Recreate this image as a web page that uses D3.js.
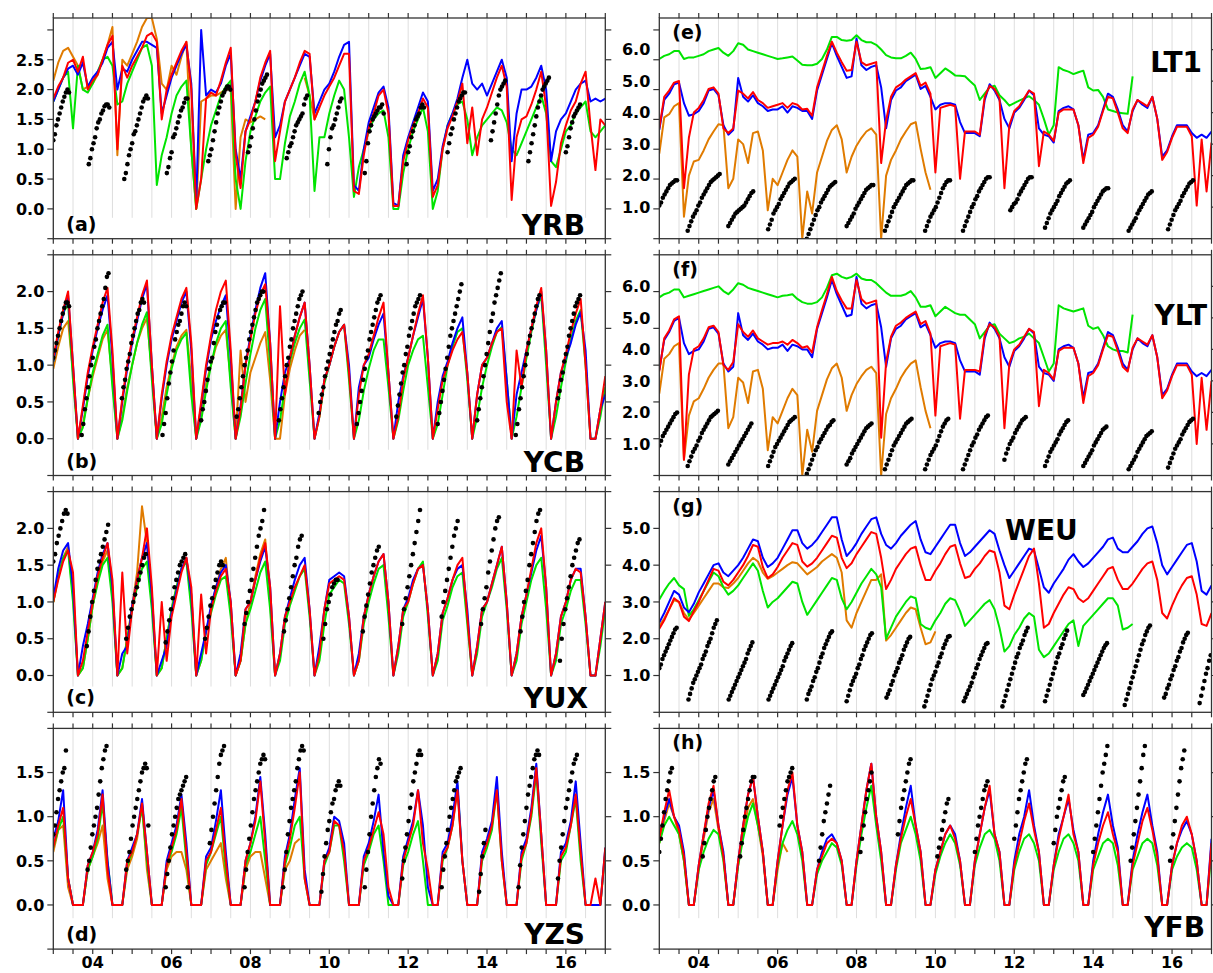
<!DOCTYPE html>
<meta charset="utf-8">
<script src="https://d3js.org/d3.v7.min.js"></script>
<style>
body { margin: 0; background: #fff; }
svg text { font-family: "DejaVu Sans", sans-serif; font-weight: bold; fill: #000; }
</style>
<body>
<div id="chart"></div>
</body>
<script>

// time axis: day of month, series sampled every 3 hours from day 3.0
const t0 = 3, dt = 0.125;

// ---- (a) YRB
const aRed = [
 1.85,2.05,2.2,2.45,2.5,2.3,2.55,2.0,
 2.15,2.25,2.5,2.75,2.9,1.0,2.4,2.2,
 2.4,2.55,2.7,2.9,2.95,2.8,1.5,2.0,
 2.25,2.45,2.65,2.8,2.0,0.0,0.5,1.85,
 1.95,1.9,2.15,2.45,2.7,0.9,0.35,1.3,
 1.5,1.8,2.2,2.45,2.65,0.8,1.3,1.8,
 2.0,2.2,2.45,2.65,2.6,1.5,1.7,1.9,
 2.05,2.2,2.4,2.6,2.6,0.3,0.25,0.9,
 1.35,1.6,1.9,2.0,1.6,0.05,0.05,0.8,
 1.15,1.4,1.6,1.85,1.7,0.2,0.4,1.0,
 1.35,1.55,1.8,2.1,1.1,1.7,0.9,1.5,
 1.7,1.95,2.2,2.4,2.05,0.15,1.2,1.5,
 1.55,1.75,2.0,2.3,1.7,0.05,0.45,1.1,
 1.4,1.65,1.8,2.1,2.3,1.4,0.65,1.5,
 1.4];
const aBlue = [
 1.8,2.0,2.2,2.35,2.4,2.25,2.45,2.05,
 2.2,2.3,2.45,2.7,2.8,2.0,2.35,2.3,
 2.5,2.65,2.8,2.8,2.75,2.7,1.6,1.9,
 2.2,2.4,2.6,2.75,2.1,0.1,3.0,1.9,
 2.0,1.95,2.1,2.4,2.6,1.0,0.5,1.3,
 1.55,1.8,2.15,2.4,2.6,1.2,1.4,1.8,
 2.0,2.2,2.4,2.6,2.55,1.6,1.8,2.0,
 2.1,2.3,2.55,2.75,2.8,0.4,0.3,1.0,
 1.45,1.7,1.95,2.05,1.7,0.1,0.05,0.9,
 1.2,1.45,1.7,1.95,1.8,0.3,0.5,1.05,
 1.4,1.6,1.85,2.2,2.5,2.1,2.0,2.1,
 1.9,2.1,2.3,2.5,2.2,0.8,1.6,2.0,
 2.0,2.05,2.2,2.4,2.0,0.8,1.3,1.5,
 1.6,1.8,2.0,2.1,2.15,1.8,1.85,1.8,
 1.85];
const aGreen = [
 1.8,2.0,2.2,2.3,1.35,2.4,2.0,1.95,
 2.1,2.3,2.5,2.55,2.4,1.75,1.8,2.1,
 2.3,2.5,2.7,2.75,2.4,0.4,0.9,1.2,
 1.6,1.9,2.05,2.15,1.0,0.0,0.5,1.0,
 1.4,1.65,1.9,2.05,2.15,0.5,0.0,0.8,
 1.3,1.55,1.8,1.95,2.05,0.5,0.5,1.1,
 1.55,1.8,2.1,2.3,1.9,0.3,1.2,1.2,
 1.6,1.9,2.15,2.0,1.2,0.2,0.7,1.0,
 1.3,1.5,1.6,1.65,1.2,0.0,0.0,0.6,
 1.0,1.3,1.5,1.7,1.3,0.0,0.3,1.0,
 1.4,1.6,1.75,1.8,1.5,0.9,1.2,1.4,
 1.5,1.6,1.7,1.65,1.45,1.0,0.9,1.1,
 1.3,1.5,1.7,1.9,1.6,0.8,0.7,1.0,
 1.3,1.4,1.6,1.7,1.8,1.3,1.2,1.3,
 1.4];
const aOrange = [
 2.15,2.45,2.65,2.7,2.55,2.4,2.0,2.05,
 2.1,2.25,2.5,2.75,3.05,0.9,2.5,2.4,
 2.6,2.8,3.05,3.2,3.2,2.85,2.1,2.0,
 2.4,2.25,2.55,2.8,1.0,0.0,1.8,1.85,
 1.9,1.9,1.95,2.0,2.0,0.0,1.2,1.5,
 1.45,1.5,1.55,1.5,null,null,null,null,
 null,null,null,2.2,1.9,1.5,1.7];
const aObs = [
 [3.0,[1.15,1.25,1.4,1.5,1.6,1.7,1.8,1.88,1.95,2.0,1.95]],
 [3.9,[0.75,0.85,1.0,1.1,1.2,1.35,1.45,1.5,1.6,1.65,1.72,1.75,1.75,1.7]],
 [4.8,[0.5,0.6,0.75,0.9,1.0,1.1,1.25,1.3,1.4,1.5,1.6,1.7,1.8,1.85,1.9,1.85]],
 [5.88,[0.6,0.7,0.85,0.95,1.2,1.25,1.35,1.45,1.55,1.65,1.7,1.78,1.85,1.85]],
 [6.93,[0.8,0.9,1.0,1.15,1.3,1.45,1.6,1.7,1.8,1.9,1.95,2.0,2.05,2.05,2.0]],
 [7.94,[0.95,1.05,1.2,1.35,1.5,1.65,1.8,1.9,2.0,2.1,2.15,2.2,2.25]],
 [8.92,[0.85,0.95,1.05,1.1,1.2,1.3,1.4,1.45,1.5,1.55,1.6,1.75,1.85,1.9]],
 [9.95,[0.75,1.0,1.2,1.35,1.4,1.5,1.6,1.7,1.8,1.85]],
 [10.9,[0.6,0.8,1.1,1.3,1.4,1.5,1.55,1.6,1.65,1.7,1.7,1.75,1.6]],
 [11.96,[0.75,0.95,1.05,1.2,1.3,1.4,1.5,1.55,1.6,1.7,1.75,1.7]],
 [13.0,[0.95,1.1,1.25,1.35,1.5,1.6,1.7,1.8,1.85,1.9,1.95,1.95]],
 [14.1,[1.15,1.3,1.45,1.6,1.75,1.9,2.0,2.05,2.1,2.15]],
 [15.05,[0.8,0.95,1.1,1.25,1.4,1.55,1.7,1.8,1.9,2.0,2.05,2.1,2.15,2.2]],
 [16.0,[0.95,1.05,1.2,1.35,1.45,1.55,1.6,1.65,1.7,1.75]]];

// ---- (b) YCB
const bRed = [
 1.1,1.45,1.75,2.0,1.0,0,0.45,0.9,
 1.25,1.55,1.85,2.05,1.2,0,0.55,1.0,
 1.35,1.65,1.95,2.15,1.0,0,0.6,1.05,
 1.4,1.65,1.9,2.05,1.3,0,0.5,1.0,
 1.4,1.75,2.0,2.15,1.2,0,0.4,1.0,
 1.35,1.7,1.95,2.1,1.3,0,1.8,0.6,
 1.1,1.4,1.65,1.85,1.0,0,0.3,0.8,
 1.0,1.25,1.45,1.55,0.9,0,0.6,1.0,
 1.15,1.4,1.65,1.85,0.9,0,0.3,0.8,
 1.1,1.4,1.7,1.95,1.1,0,0.4,0.8,
 1.0,1.2,1.35,1.45,0.9,0,0.6,1.0,
 1.1,1.3,1.45,1.5,0.5,0,1.2,0.7,
 1.2,1.5,1.8,2.05,1.2,0,0.5,0.9,
 1.15,1.45,1.7,1.9,1.0,0,0,0.4,
 0.85];
const bBlue = [
 1.05,1.4,1.7,1.95,1.0,0,0.4,0.85,
 1.2,1.5,1.75,1.95,1.1,0,0.5,0.95,
 1.3,1.6,1.9,2.1,1.0,0,0.55,1.0,
 1.35,1.6,1.85,2.0,1.2,0,0.45,0.95,
 1.35,1.6,1.8,1.95,1.1,0,0.45,1.0,
 1.4,1.75,2.05,2.25,1.3,0,0.5,0.9,
 1.1,1.4,1.65,1.85,1.0,0,0.35,0.8,
 1.0,1.25,1.45,1.55,1.0,0,0.7,1.0,
 1.1,1.35,1.55,1.7,0.9,0,0.5,0.85,
 1.1,1.4,1.65,1.9,1.1,0,0.5,0.85,
 1.05,1.3,1.5,1.65,0.9,0,0.6,1.0,
 1.1,1.3,1.5,1.6,0.8,0,0.6,0.9,
 1.2,1.5,1.75,2.0,1.2,0,0.5,0.9,
 1.1,1.3,1.55,1.72,1.2,0,0,0.4,
 0.6];
const bGreen = [
 1.05,1.4,1.7,1.85,0.8,0,0.15,0.55,
 0.9,1.15,1.4,1.55,0.7,0,0.25,0.65,
 1.0,1.3,1.55,1.72,0.8,0,0.2,0.6,
 0.95,1.2,1.35,1.44,0.6,0,0.25,0.65,
 1.0,1.3,1.5,1.6,0.7,0,0.3,0.75,
 1.15,1.5,1.75,1.9,1.0,0,0.25,0.7,
 1.05,1.3,1.5,1.62,0.8,0,0.3,0.75,
 1.0,1.25,1.45,1.55,0.8,0,0.25,0.65,
 0.95,1.2,1.35,1.35,0.7,0,0.25,0.65,
 1.0,1.2,1.35,1.4,0.7,0,0.2,0.6,
 1.0,1.25,1.45,1.5,0.8,0,0.3,0.7,
 1.0,1.25,1.45,1.52,0.8,0,0.3,0.7,
 1.1,1.45,1.75,1.95,1.0,0,0.3,0.7,
 1.05,1.35,1.6,1.75,1.0,0,0,0.3,
 0.7];
const bOrange = [
 0.95,1.25,1.5,1.6,0.9,0,0.2,0.55,
 0.85,1.1,1.35,1.48,0.8,0,0.3,0.7,
 1.0,1.3,1.5,1.64,0.9,0,0.3,0.7,
 1.0,1.25,1.4,1.48,0.8,0,0.35,0.75,
 1.0,1.25,1.4,1.48,0.8,0,1.2,0.5,
 0.9,1.1,1.3,1.45,0.8,0,0,0.6,
 0.95,1.2,1.4,1.48];
const bObs = [
 [3.0,[1.1,1.2,1.3,1.4,1.5,1.6,1.7,1.78,1.85,1.85,1.8]],
 [3.72,[0.05,0.2,0.4,0.55,0.7,0.85,1.0,1.1,1.25,1.35,1.5,1.6,1.7,1.8,1.9,2.05,2.2,2.25]],
 [4.74,[0.55,0.7,0.8,0.95,1.05,1.15,1.3,1.4,1.5,1.6,1.7,1.75,1.85,1.9,1.85]],
 [5.77,[0.05,0.2,0.35,0.55,0.75,0.9,1.05,1.2,1.35,1.45,1.55,1.6,1.7,1.8,1.85,1.8]],
 [6.75,[0.25,0.4,0.5,0.65,0.8,0.95,1.05,1.1,1.3,1.45,1.55,1.65,1.75,1.8,1.85,1.85]],
 [7.65,[0.3,0.4,0.55,0.7,0.85,1.0,1.1,1.2,1.35,1.45,1.55,1.65,1.75,1.85,1.9,1.95,2.0,2.0]],
 [8.72,[0.25,0.4,0.55,0.7,0.85,1.0,1.1,1.25,1.35,1.5,1.6,1.7,1.8,1.9,1.95,2.0]],
 [9.73,[0.35,0.5,0.6,0.7,0.85,0.95,1.05,1.15,1.25,1.35,1.45,1.55,1.6,1.7,1.75]],
 [10.7,[0.2,0.35,0.5,0.65,0.8,0.95,1.1,1.2,1.35,1.45,1.55,1.65,1.75,1.85,1.9,1.95]],
 [11.7,[0.3,0.45,0.6,0.75,0.9,1.0,1.15,1.25,1.4,1.5,1.6,1.7,1.8,1.85,1.9,1.95]],
 [12.75,[0.2,0.35,0.5,0.65,0.8,0.95,1.1,1.25,1.4,1.5,1.6,1.7,1.8,1.9,2.0,2.1]],
 [13.75,[0.25,0.4,0.55,0.7,0.85,1.0,1.15,1.3,1.45,1.6,1.7,1.85,1.95,2.05,2.15,2.25]],
 [14.73,[0.05,0.2,0.4,0.55,0.7,0.85,1.0,1.15,1.3,1.4,1.5,1.6,1.7,1.8,1.9,1.95]],
 [15.8,[0.55,0.65,0.8,0.9,1.05,1.15,1.25,1.4,1.5,1.6,1.7,1.8,1.85,1.9,1.95]]];

// ---- (c) YUX
const cRed = [
 1.0,1.3,1.55,1.7,1.4,0,0.2,0.6,
 1.0,1.35,1.6,1.8,1.3,0,1.4,0.3,
 0.9,1.3,1.6,2.0,1.2,0,1.0,0.2,
 0.8,1.1,1.4,1.6,1.2,0,1.1,0.3,
 0.9,1.15,1.35,1.45,1.0,0,0.2,0.9,
 1.0,1.3,1.6,1.8,1.2,0,0.3,0.8,
 1.0,1.2,1.35,1.5,0.9,0,0.3,0.9,
 1.25,1.3,1.35,1.3,0.8,0,0.2,0.8,
 1.1,1.35,1.55,1.65,1.0,0,0.4,0.9,
 1.0,1.25,1.45,1.5,0.9,0,0.3,0.85,
 1.05,1.3,1.5,1.6,0.8,0,0.4,0.9,
 1.0,1.25,1.5,1.75,1.0,0,0.3,0.8,
 1.1,1.45,1.8,2.0,1.2,0,0.3,0.8,
 1.0,1.3,1.45,1.4,0.8,0,0,0.5,
 1.0];
const cBlue = [
 1.05,1.45,1.7,1.8,1.2,0,0.4,0.7,
 1.05,1.4,1.65,1.8,1.2,0,0.3,0.4,
 0.95,1.3,1.6,1.8,1.1,0,0.2,0.4,
 0.85,1.15,1.45,1.6,1.1,0,0.3,0.6,
 0.95,1.2,1.4,1.5,1.0,0,0.3,0.9,
 1.0,1.3,1.55,1.75,1.2,0,0.3,0.8,
 1.05,1.3,1.5,1.6,0.9,0,0.4,0.9,
 1.3,1.35,1.4,1.35,0.8,0,0.3,0.8,
 1.1,1.35,1.55,1.65,1.0,0,0.4,0.9,
 1.05,1.3,1.45,1.5,0.9,0,0.3,0.85,
 1.05,1.3,1.45,1.5,0.9,0,0.4,0.9,
 1.0,1.25,1.5,1.75,1.0,0,0.3,0.8,
 1.1,1.4,1.7,1.9,1.2,0,0.3,0.8,
 1.0,1.3,1.45,1.45,0.8,0,0,0.5,
 1.0];
const cGreen = [
 1.0,1.35,1.6,1.7,1.0,0,0.1,0.5,
 0.95,1.25,1.5,1.6,1.0,0,0.1,0.5,
 0.9,1.2,1.45,1.55,0.9,0,0.1,0.5,
 0.9,1.2,1.45,1.55,0.9,0,0.2,0.6,
 0.85,1.1,1.3,1.35,0.8,0,0.2,0.7,
 0.9,1.15,1.4,1.55,0.9,0,0.2,0.7,
 0.95,1.15,1.35,1.45,0.8,0,0.2,0.7,
 1.1,1.2,1.3,1.25,0.7,0,0.2,0.7,
 1.0,1.25,1.45,1.5,0.8,0,0.3,0.8,
 1.0,1.25,1.45,1.55,0.8,0,0.2,0.75,
 0.95,1.2,1.35,1.4,0.7,0,0.3,0.8,
 1.0,1.2,1.45,1.6,0.9,0,0.2,0.7,
 1.0,1.3,1.5,1.6,0.9,0,0.2,0.7,
 0.9,1.15,1.3,1.3,0.7,0,0,0.4,
 0.9];
const cOrange = [
 1.0,1.35,1.6,1.75,1.1,0,0.1,0.5,
 0.95,1.3,1.55,1.7,1.1,0,0.1,0.5,
 0.95,1.4,2.3,1.8,1.0,0,0.1,0.5,
 0.9,1.2,1.45,1.6,1.0,0,0.2,0.6,
 0.9,1.2,1.45,1.6,0.9,0,0.2,0.7,
 1.0,1.35,1.65,1.85,1.0,0];
const cObs = [
 [3.0,[1.55,1.65,1.8,1.9,2.0,2.1,2.2,2.25,2.2]],
 [3.85,[0.4,0.6,0.8,1.0,1.15,1.3,1.45,1.55,1.65,1.75,1.85,1.95,2.05]],
 [4.85,[0.5,0.65,0.8,0.9,1.0,1.1,1.2,1.3,1.4,1.5,1.6,1.65]],
 [5.85,[0.45,0.6,0.75,0.9,1.05,1.2,1.3,1.4,1.5,1.55,1.6,1.65]],
 [6.85,[0.5,0.65,0.8,0.95,1.05,1.2,1.3,1.4,1.5,1.55,1.5]],
 [7.85,[0.7,0.85,1.0,1.15,1.3,1.45,1.6,1.75,1.9,2.0,2.1,2.25]],
 [8.85,[0.6,0.75,0.9,1.05,1.2,1.35,1.5,1.6,1.75,1.85,1.9]],
 [9.85,[0.5,0.7,0.9,1.0,1.1,1.2,1.25,1.3,1.3]],
 [10.85,[0.6,0.8,0.95,1.1,1.25,1.4,1.5,1.6,1.7,1.75]],
 [11.85,[0.7,0.9,1.05,1.2,1.35,1.5,1.65,1.8,1.95,2.1,2.25]],
 [12.85,[0.8,1.0,1.15,1.3,1.45,1.6,1.75,1.9,2.0,2.1]],
 [13.85,[0.7,0.9,1.05,1.2,1.4,1.55,1.7,1.85,2.0,2.1,2.15]],
 [14.85,[0.6,0.8,1.0,1.15,1.3,1.5,1.65,1.8,1.95,2.1,2.2,2.25]],
 [15.85,[0.2,0.5,0.7,0.9,1.05,1.2,1.35,1.5,1.6,1.7,1.8,1.85]]];

// ---- (d) YZS
const dRed = [
 0.65,0.9,1.1,0.3,0,0,0,0.45,
 0.6,0.8,1.25,0.4,0,0,0,0.5,
 0.6,0.8,1.15,0.6,0,0,0,0.45,
 0.65,0.85,1.2,0.6,0,0,0,0.5,
 0.6,0.85,1.1,0.5,0,0,0,0.5,
 0.7,0.95,1.4,0.7,0,0,0,0.5,
 0.75,1.1,1.5,0.3,0,0,0,0.5,
 0.6,0.95,0.9,0.6,0,0,0,0.5,
 0.65,0.85,1.05,0.8,0.2,0,0,0.5,
 0.7,0.9,1.3,0.7,0.4,0,0,0.55,
 0.65,0.9,1.3,0.5,0,0,0,0.55,
 0.7,0.9,1.3,0.5,0,0,0,0.55,
 0.7,1.05,1.55,0.8,0,0,0,0.55,
 0.65,0.9,1.25,0.6,0,0,0.3,0,
 0.65];
const dBlue = [
 0.75,0.95,1.3,0.3,0,0,0,0.45,
 0.6,0.85,1.3,0.5,0,0,0,0.5,
 0.65,0.8,1.2,0.6,0,0,0,0.5,
 0.7,0.9,1.25,0.7,0,0,0,0.55,
 0.65,0.95,1.3,0.6,0,0,0,0.5,
 0.7,1.0,1.45,0.8,0,0,0,0.55,
 0.8,1.2,1.55,0.4,0,0,0,0.5,
 0.65,1.0,0.95,0.7,0,0,0,0.55,
 0.7,0.95,1.25,0.6,0.1,0,0,0.55,
 0.75,0.95,1.3,0.9,0.2,0,0,0.6,
 0.7,1.0,1.4,0.5,0,0,0,0.6,
 0.75,0.95,1.45,0.6,0,0,0,0.6,
 0.75,1.1,1.6,0.8,0,0,0,0.6,
 0.7,0.95,1.4,0.7,0,0,0,0,
 0.65];
const dGreen = [
 0.65,0.85,1.0,0.3,0,0,0,0.4,
 0.55,0.75,1.15,0.5,0,0,0,0.45,
 0.6,0.8,1.1,0.5,0,0,0,0.45,
 0.6,0.8,1.1,0.5,0,0,0,0.45,
 0.6,0.8,1.0,0.4,0,0,0,0.45,
 0.6,0.8,1.0,0.5,0,0,0,0.45,
 0.65,0.9,1.0,0.3,0,0,0,0.45,
 0.6,0.9,0.9,0.5,0,0,0,0.45,
 0.6,0.8,0.9,0.5,0,0,0,0.45,
 0.6,0.8,0.95,0.5,0,0,0,0.5,
 0.65,0.9,1.35,0.5,0,0,0,0.5,
 0.65,0.85,1.3,0.5,0,0,0,0.5,
 0.7,1.0,1.5,0.7,0,0,0,0.5,
 0.6,0.9,1.2,0.5,0,0,0,0,
 0.6];
const dOrange = [
 0.6,0.85,0.9,0.2,0,0,0,0.4,
 0.55,0.7,0.9,0.3,0,0,0,0.4,
 0.55,0.75,1.15,0.4,0,0,0,0.4,
 0.55,0.6,0.6,0.4,0,0,0,0.4,
 0.5,0.6,0.7,0.3,0,0,0,0.4,
 0.55,0.6,0.6,0.3,0,0,0,0.4,
 0.5,0.7,0.75];
const dObs = [
 [3.0,[0.8,0.9,1.05,1.2,1.3,1.4,1.5,1.55,1.75]],
 [3.87,[0.4,0.5,0.65,0.8,0.9,1.0,1.1,1.25,1.4,1.55,1.65,1.75,1.8]],
 [4.85,[0.4,0.5,0.6,0.75,0.9,1.0,1.1,1.2,1.3,1.4,1.5,1.55,1.6,1.55,0.9]],
 [5.85,[0.2,0.35,0.5,0.65,0.8,0.9,1.0,1.1,1.2,1.25,1.3,1.35,1.4,1.45,0.2]],
 [6.97,[0.7,0.85,1.0,1.15,1.3,1.45,1.6,1.7,1.75,1.8]],
 [7.85,[0.2,0.4,0.6,0.75,0.9,1.05,1.2,1.3,1.4,1.5,1.6,1.65,1.7,1.65]],
 [8.83,[0.2,0.4,0.6,0.8,0.95,1.1,1.2,1.3,1.4,1.55,1.65,1.75,1.8,1.75]],
 [9.8,[0.15,0.35,0.55,0.7,0.85,0.95,1.05,1.15,1.2,1.3,1.35,1.4,1.35]],
 [10.9,[0.2,0.4,0.6,0.8,1.0,1.15,1.3,1.45,1.55,1.65,1.6]],
 [11.85,[0.3,0.5,0.65,0.8,0.95,1.1,1.25,1.4,1.5,1.6,1.7,1.75,1.7]],
 [12.85,[0.2,0.4,0.55,0.7,0.85,1.0,1.1,1.2,1.3,1.4,1.45,1.5,1.55]],
 [13.8,[0.15,0.35,0.55,0.7,0.85]],
 [14.8,[0.2,0.45,0.65,0.8,0.95,1.1,1.25,1.35,1.45,1.55,1.65,1.7,1.75,1.7]],
 [15.8,[0.3,0.5,0.65,0.8,0.95,1.1,1.2,1.3,1.4,1.5,1.6,1.65,1.7]]];

// ---- (e) LT1
const eRed = [
 3.5,4.5,4.7,4.95,5.0,1.6,3.2,4.0,
 4.15,4.4,4.75,4.8,4.6,3.5,3.35,3.5,
 4.7,4.6,4.45,4.65,4.4,4.3,4.15,4.2,
 4.25,4.3,4.15,4.3,4.25,4.1,4.12,3.9,
 4.8,5.3,5.8,6.25,5.9,5.6,5.33,5.35,
 6.25,5.6,5.5,5.55,5.6,2.4,3.75,4.5,
 4.8,4.9,5.05,5.15,5.25,4.85,4.95,4.6,
 2.1,4.15,4.2,4.25,4.2,1.9,3.4,3.4,
 3.4,3.3,4.5,4.85,4.75,4.45,1.6,3.6,
 4.05,4.2,4.45,4.7,4.6,2.3,3.4,3.3,
 3.1,4.0,4.1,4.1,4.1,3.6,2.4,3.2,
 3.3,3.55,4.05,4.5,4.45,4.0,3.5,3.35,
 4.1,4.4,4.3,4.2,4.5,3.8,2.5,2.75,
 3.2,3.55,3.55,3.55,3.25,1.05,3.15,1.5,
 3.05];
const eBlue = [
 3.45,4.4,4.6,4.9,4.95,4.3,3.9,3.95,
 4.05,4.3,4.7,4.75,4.55,3.6,3.3,3.45,
 5.1,4.5,4.35,4.55,4.3,4.2,4.05,4.1,
 4.1,4.2,4.0,4.2,4.15,4.05,4.05,3.8,
 4.7,5.2,5.7,6.2,5.8,5.45,5.1,5.15,
 6.35,5.5,5.35,5.45,5.5,4.8,3.5,4.4,
 4.7,4.8,5.0,5.1,5.2,4.75,4.85,4.5,
 4.1,4.25,4.3,4.3,4.25,3.7,3.35,3.35,
 3.35,3.25,4.4,4.9,4.7,4.4,3.8,3.5,
 4.0,4.15,4.4,4.7,4.55,3.5,3.3,3.25,
 3.05,4.05,4.15,4.2,4.1,3.6,2.5,3.3,
 3.35,3.6,4.1,4.6,4.5,4.1,3.6,3.4,
 4.05,4.4,4.25,4.15,4.5,3.8,2.6,2.8,
 3.25,3.6,3.6,3.6,3.35,3.2,3.3,3.2,
 3.4];
const eGreen = [
 5.7,5.8,5.85,5.95,5.95,5.7,5.75,5.75,
 5.8,5.85,5.95,6.0,6.05,5.9,5.8,5.95,
 6.2,6.15,6.0,5.95,5.9,5.85,5.8,5.75,
 5.7,5.72,5.75,5.78,5.65,5.52,5.5,5.5,
 5.55,5.7,6.0,6.4,6.4,6.3,6.28,6.3,
 6.45,6.3,6.23,6.23,6.15,6.0,5.82,5.75,
 5.72,5.72,5.8,5.9,5.7,5.38,5.4,5.44,
 5.1,5.25,5.4,5.3,5.18,5.17,5.15,5.0,
 4.86,4.4,4.6,4.8,4.85,4.55,4.4,4.22,
 4.3,4.38,4.45,4.52,4.4,4.25,3.8,3.3,
 3.6,5.44,5.35,5.3,5.22,5.28,5.33,4.8,
 4.7,4.72,4.5,4.1,4.05,4.0,3.98,3.96,
 5.15];
const eOrange = [
 2.7,3.85,3.95,4.2,4.3,0.7,2.0,2.45,
 2.5,2.8,3.15,3.4,3.63,3.6,1.6,1.9,
 3.15,3.0,2.4,3.35,3.4,2.8,0.9,1.9,
 1.7,2.1,2.5,2.8,2.6,0.0,1.5,0.8,
 2.1,2.6,3.1,3.45,3.6,3.15,2.1,2.6,
 2.95,3.2,3.4,3.5,3.3,0.0,2.0,2.5,
 2.8,3.15,3.4,3.63,3.7,2.85,2.1,1.55];
const eObs = [
 [3.0,[1.05,1.15,1.3,1.4,1.5,1.6,1.7,1.75,1.8,1.85,1.85]],
 [3.72,[0.25,0.4,0.55,0.7,0.8,0.9,1.05,1.15,1.3,1.4,1.5,1.6,1.7,1.8,1.85,1.9,1.95,2.0,2.05]],
 [4.75,[0.4,0.5,0.6,0.7,0.8,0.85,0.9,0.95,1.0,1.05,1.15,1.25,1.35,1.45,1.5]],
 [5.76,[0.3,0.45,0.6,0.8,0.9,1.0,1.1,1.25,1.35,1.45,1.55,1.65,1.75,1.8,1.85,1.9]],
 [6.74,[0.0,0.15,0.3,0.45,0.6,0.75,0.9,1.0,1.15,1.25,1.35,1.45,1.55,1.65,1.7,1.75,1.8]],
 [7.75,[0.4,0.5,0.6,0.7,0.8,0.95,1.05,1.15,1.25,1.35,1.45,1.55,1.6,1.65,1.7,1.7]],
 [8.72,[0.25,0.4,0.55,0.7,0.85,1.0,1.1,1.2,1.3,1.4,1.5,1.6,1.7,1.75,1.8,1.85,1.85]],
 [9.74,[0.25,0.4,0.55,0.7,0.8,0.9,1.0,1.15,1.3,1.45,1.6,1.7,1.8,1.85,1.85]],
 [10.7,[0.25,0.4,0.55,0.7,0.85,1.0,1.1,1.25,1.35,1.5,1.6,1.7,1.8,1.9,1.95,1.95]],
 [11.9,[0.9,1.0,1.1,1.15,1.25,1.4,1.5,1.6,1.7,1.8,1.9,1.95,1.95]],
 [12.78,[0.35,0.5,0.65,0.8,0.9,1.0,1.1,1.2,1.35,1.45,1.55,1.65,1.75,1.8,1.85]],
 [13.75,[0.35,0.45,0.55,0.65,0.75,0.85,1.0,1.1,1.2,1.3,1.4,1.5,1.55,1.6,1.6]],
 [14.9,[0.25,0.35,0.45,0.55,0.65,0.8,0.9,1.0,1.1,1.2,1.3,1.4,1.45,1.5]],
 [15.9,[0.3,0.45,0.6,0.75,0.9,1.0,1.1,1.2,1.35,1.45,1.55,1.65,1.75,1.8,1.85]]];

// ---- (f) YLT
const fRed = [
 3.3,4.35,4.6,4.95,5.05,0.5,3.2,4.0,
 4.1,4.35,4.7,4.75,4.55,3.5,3.35,3.6,
 4.8,4.55,4.4,4.6,4.35,4.25,4.15,4.2,
 4.2,4.25,4.15,4.3,4.2,4.05,4.1,3.9,
 4.7,5.25,5.75,6.3,5.85,5.55,5.3,5.3,
 6.2,5.6,5.45,5.5,5.55,1.2,3.6,4.4,
 4.75,4.85,5.0,5.1,5.2,4.8,4.9,4.5,
 1.9,4.1,4.15,4.2,4.15,1.8,3.35,3.35,
 3.35,3.3,4.45,4.8,4.7,4.4,1.5,3.55,
 4.0,4.15,4.4,4.65,4.55,2.2,3.35,3.25,
 3.05,3.95,4.05,4.05,4.05,3.55,2.3,3.15,
 3.25,3.5,4.0,4.45,4.4,3.95,3.45,3.3,
 4.05,4.35,4.25,4.15,4.45,3.75,2.45,2.7,
 3.15,3.5,3.5,3.5,3.2,1.0,3.1,1.45,
 3.0];
const fBlue = [
 3.35,4.3,4.55,4.9,5.0,4.2,3.85,3.95,
 4.0,4.25,4.65,4.7,4.5,3.55,3.3,3.45,
 5.15,4.45,4.3,4.5,4.25,4.15,4.0,4.05,
 4.05,4.15,3.95,4.15,4.1,4.0,4.0,3.75,
 4.65,5.15,5.65,6.2,5.75,5.4,5.05,5.1,
 6.3,5.45,5.3,5.4,5.45,4.7,3.45,4.35,
 4.65,4.75,4.95,5.05,5.15,4.7,4.8,4.45,
 4.05,4.2,4.25,4.25,4.2,3.65,3.3,3.3,
 3.3,3.2,4.35,4.85,4.65,4.35,3.75,3.45,
 3.95,4.1,4.35,4.65,4.5,3.45,3.25,3.2,
 3.0,4.0,4.1,4.15,4.05,3.55,2.45,3.25,
 3.3,3.55,4.05,4.55,4.45,4.05,3.55,3.35,
 4.0,4.35,4.2,4.1,4.45,3.75,2.55,2.75,
 3.2,3.55,3.55,3.55,3.3,3.15,3.25,3.15,
 3.35];
const fGreen = [
 5.65,5.75,5.8,5.9,5.9,5.65,5.7,5.75,
 5.8,5.85,5.9,5.95,6.0,5.85,5.75,5.9,
 6.1,6.05,5.95,5.9,5.85,5.8,5.75,5.7,
 5.65,5.7,5.72,5.75,5.6,5.5,5.45,5.45,
 5.5,5.65,5.95,6.35,6.4,6.3,6.25,6.3,
 6.4,6.25,6.2,6.2,6.1,5.95,5.8,5.7,
 5.7,5.7,5.75,5.85,5.65,5.35,5.35,5.4,
 5.05,5.2,5.35,5.25,5.15,5.1,5.1,4.95,
 4.8,4.35,4.55,4.75,4.8,4.5,4.35,4.2,
 4.25,4.35,4.4,4.5,4.35,4.2,3.75,3.3,
 3.55,5.4,5.3,5.25,5.2,5.25,5.3,4.75,
 4.65,4.7,4.45,4.1,4.0,3.95,3.95,3.9,
 5.1];
const fOrange = [
 2.6,3.7,3.85,4.1,4.2,0.5,1.9,2.35,
 2.45,2.75,3.1,3.35,3.55,3.55,1.5,1.85,
 3.1,2.95,2.3,3.3,3.35,2.75,0.8,1.85,
 1.65,2.05,2.45,2.75,2.55,0.0,1.45,0.75,
 2.05,2.55,3.05,3.4,3.55,3.1,2.05,2.55,
 2.9,3.15,3.35,3.45,3.25,0.0,1.95,2.45,
 2.75,3.1,3.35,3.55,3.65,2.8,2.05,1.5];
const fObs = [
 [3.0,[0.95,1.1,1.25,1.35,1.45,1.55,1.65,1.75,1.85,1.95,2.0]],
 [3.72,[0.3,0.45,0.6,0.75,0.85,0.95,1.1,1.2,1.35,1.45,1.55,1.65,1.75,1.85,1.9,1.95,2.0,2.05]],
 [4.75,[0.35,0.45,0.55,0.65,0.75,0.85,0.95,1.05,1.15,1.25,1.35,1.45,1.55,1.65]],
 [5.76,[0.3,0.45,0.6,0.75,0.9,1.0,1.1,1.2,1.3,1.4,1.5,1.6,1.7,1.75,1.8,1.85]],
 [6.74,[0.05,0.2,0.35,0.5,0.65,0.8,0.9,1.05,1.15,1.25,1.35,1.45,1.55,1.6,1.7,1.75]],
 [7.75,[0.35,0.45,0.55,0.7,0.8,0.9,1.0,1.1,1.2,1.3,1.4,1.5,1.55,1.6,1.65]],
 [8.72,[0.2,0.35,0.5,0.65,0.8,0.95,1.05,1.15,1.25,1.35,1.45,1.55,1.65,1.7,1.75,1.8]],
 [9.74,[0.2,0.35,0.5,0.65,0.75,0.85,0.95,1.1,1.25,1.4,1.55,1.65,1.75,1.8]],
 [10.7,[0.2,0.35,0.5,0.65,0.8,0.95,1.05,1.2,1.3,1.45,1.55,1.65,1.75,1.85,1.9]],
 [11.75,[0.5,0.7,0.85,1.0,1.1,1.2,1.35,1.45,1.55,1.65,1.75,1.8,1.85]],
 [12.78,[0.3,0.45,0.6,0.75,0.85,0.95,1.05,1.15,1.3,1.4,1.5,1.6,1.7,1.75]],
 [13.75,[0.3,0.4,0.5,0.6,0.7,0.8,0.95,1.05,1.15,1.25,1.35,1.45,1.5,1.55]],
 [14.9,[0.2,0.3,0.4,0.5,0.6,0.75,0.85,0.95,1.05,1.15,1.25,1.3,1.35,1.4]],
 [15.9,[0.25,0.4,0.55,0.7,0.85,0.95,1.05,1.15,1.3,1.4,1.5,1.6,1.7,1.75,1.8]]];

// ---- (g) WEU
const gBlue = [
 2.44,2.7,3.0,3.3,3.2,2.85,2.72,2.95,
 3.26,3.5,3.75,4.0,4.05,3.8,3.7,3.85,
 4.0,4.2,4.45,4.7,4.65,4.2,3.95,4.05,
 4.2,4.45,4.7,4.95,4.95,4.6,4.45,4.55,
 4.7,4.9,5.1,5.3,5.3,4.7,4.25,4.4,
 4.6,4.85,5.05,5.25,5.3,4.85,4.55,4.45,
 4.6,4.8,4.95,5.1,5.2,4.7,4.35,4.3,
 4.5,4.7,4.9,5.1,5.1,4.6,4.25,4.35,
 4.5,4.65,4.8,4.95,4.85,4.4,4.0,3.65,
 3.85,4.05,4.25,4.45,4.4,3.9,3.4,3.25,
 3.5,3.7,3.9,4.15,4.3,4.1,3.95,4.05,
 4.2,4.35,4.5,4.7,4.75,4.45,4.35,4.35,
 4.5,4.65,4.85,5.0,5.05,4.6,4.0,3.75,
 3.95,4.15,4.35,4.55,4.6,4.1,3.3,3.2,
 3.45];
const gRed = [
 2.27,2.5,2.8,3.1,3.0,2.6,2.48,2.75,
 3.0,3.3,3.6,3.9,3.85,3.55,3.45,3.6,
 3.8,4.0,4.25,4.55,4.5,3.95,3.65,3.75,
 3.95,4.2,4.4,4.6,4.55,4.1,3.96,4.05,
 4.2,4.4,4.6,4.8,4.75,4.2,3.92,4.05,
 4.3,4.5,4.7,4.9,4.85,4.2,3.35,3.6,
 3.9,4.1,4.3,4.45,4.5,4.0,3.6,3.6,
 3.85,4.05,4.3,4.5,4.55,4.05,3.65,3.7,
 3.9,4.05,4.25,4.4,4.35,3.8,2.9,2.8,
 3.2,3.55,3.9,4.25,4.45,3.5,2.3,2.4,
 2.7,2.95,3.2,3.4,3.35,3.1,3.0,3.1,
 3.3,3.5,3.7,3.9,3.95,3.6,3.35,3.35,
 3.5,3.7,3.9,4.05,4.1,3.6,2.7,2.55,
 2.9,3.2,3.45,3.65,3.7,3.2,2.4,2.35,
 2.7];
const gGreen = [
 3.07,3.3,3.5,3.65,3.45,3.35,2.62,2.8,
 3.05,3.3,3.55,3.8,3.7,3.4,3.2,3.3,
 3.45,3.65,3.85,4.05,3.85,3.3,2.85,3.0,
 3.1,3.25,3.4,3.55,3.5,3.0,2.65,2.85,
 3.05,3.25,3.45,3.65,3.6,3.1,2.8,3.0,
 3.25,3.5,3.7,3.9,3.75,3.4,2.0,2.3,
 2.6,2.8,3.0,3.15,3.1,2.4,2.3,2.25,
 2.5,2.7,2.95,3.1,3.05,2.75,2.35,2.5,
 2.65,2.8,2.95,3.05,2.8,2.3,1.65,1.8,
 2.1,2.3,2.55,2.7,2.6,1.7,1.5,1.6,
 1.8,2.0,2.2,2.4,2.5,1.8,2.35,2.5,
 2.65,2.8,2.95,3.1,3.1,2.9,2.25,2.3,
 2.4];
const gOrange = [
 2.34,2.55,2.8,3.05,3.0,2.7,2.52,2.7,
 2.9,3.1,3.3,3.5,3.5,3.4,3.38,3.5,
 3.65,3.85,4.05,4.2,4.1,3.8,3.63,3.7,
 3.8,3.9,4.0,4.08,4.05,3.9,3.75,3.85,
 3.95,4.1,4.2,4.3,4.2,3.8,2.5,2.3,
 2.7,3.0,3.3,3.6,3.6,3.75,1.95,2.1,
 2.3,2.5,2.7,2.85,2.8,2.3,1.85,1.9,
 2.2];
const gObs = [
 [3.0,[1.2,1.3,1.45,1.55,1.65,1.75,1.85,1.95,2.05,2.15,2.25,2.3]],
 [3.74,[0.35,0.5,0.65,0.8,0.9,1.0,1.1,1.2,1.3,1.45,1.55,1.65,1.8,1.9,2.0,2.15,2.3,2.4,2.5]],
 [4.76,[0.35,0.45,0.55,0.65,0.75,0.85,0.95,1.05,1.15,1.25,1.35,1.45,1.6,1.7,1.8,1.9]],
 [5.77,[0.35,0.45,0.55,0.65,0.75,0.85,0.95,1.05,1.15,1.25,1.4,1.5,1.6,1.7,1.8,1.88]],
 [6.74,[0.35,0.5,0.6,0.7,0.85,0.95,1.1,1.2,1.35,1.5,1.6,1.75,1.85,1.95,2.05,2.15,2.2]],
 [7.75,[0.3,0.45,0.6,0.75,0.85,0.95,1.05,1.2,1.3,1.45,1.55,1.7,1.8,1.9,2.0,2.1,2.15]],
 [8.76,[0.4,0.5,0.6,0.75,0.85,1.0,1.1,1.2,1.35,1.45,1.55,1.7,1.8,1.9,2.0,2.05]],
 [9.72,[0.16,0.3,0.45,0.6,0.75,0.9,1.0,1.1,1.25,1.35,1.5,1.6,1.75,1.85,1.95,2.05,2.07]],
 [10.72,[0.3,0.4,0.5,0.6,0.7,0.8,0.95,1.05,1.2,1.3,1.45,1.55,1.65,1.75,1.85,1.88]],
 [11.7,[0.16,0.3,0.45,0.6,0.75,0.9,1.05,1.2,1.35,1.5,1.6,1.75,1.85,1.95,2.1,2.2,2.3]],
 [12.78,[0.3,0.45,0.6,0.75,0.9,1.05,1.2,1.35,1.5,1.6,1.75,1.85,2.0,2.1,2.22]],
 [13.75,[0.47,0.55,0.65,0.75,0.85,0.95,1.05,1.15,1.25,1.35,1.45,1.55,1.65,1.75,1.82,1.88]],
 [14.8,[0.2,0.35,0.5,0.65,0.8,0.95,1.1,1.25,1.4,1.55,1.7,1.85,1.95,2.1,2.2,2.3,2.36]],
 [15.8,[0.4,0.5,0.65,0.75,0.9,1.0,1.15,1.25,1.4,1.5,1.65,1.75,1.9,2.0,2.1,2.16]],
 [16.7,[0.25,0.45,0.65,0.85,1.05,1.2,1.4,1.55]]];

// ---- (h) YFB
const hRed = [
 0.75,1.05,1.3,1.0,0.85,0.55,0,0,
 0.45,0.8,1.15,1.35,0.9,0.55,0,0,
 0.5,0.9,1.25,1.45,1.0,0.6,0,0,
 0.5,0.9,1.3,1.5,0.9,0.6,0,0,
 0.4,0.55,0.7,0.75,0.7,0.5,0,0,
 0.5,0.9,1.3,1.6,1.0,0.6,0,0,
 0.45,0.75,1.0,1.2,0.9,0.6,0,0,
 0.4,0.6,0.8,0.9,0.75,0.5,0,0,
 0.5,0.8,1.1,1.35,0.8,0.6,0,0,
 0.45,0.7,0.95,1.15,0.85,0.6,0,0,
 0.45,0.75,1.0,1.25,0.8,0.6,0,0,
 0.45,0.7,0.9,1.05,0.8,0.6,0,0,
 0.45,0.7,0.95,1.1,0.85,0.55,0,0,
 0.45,0.7,0.9,1.0,0.8,0.5,0,0,
 0.7];
const hBlue = [
 0.8,1.0,1.2,1.0,0.9,0.6,0,0,
 0.45,0.8,1.1,1.3,0.9,0.6,0,0,
 0.5,0.9,1.25,1.45,1.0,0.6,0,0,
 0.5,0.9,1.25,1.45,0.9,0.6,0,0,
 0.4,0.6,0.75,0.8,0.7,0.5,0,0,
 0.5,0.9,1.3,1.6,1.0,0.6,0,0,
 0.45,0.8,1.1,1.35,0.9,0.6,0,0,
 0.4,0.6,0.8,0.9,0.8,0.5,0,0,
 0.5,0.8,1.1,1.3,0.8,0.6,0,0,
 0.5,0.8,1.0,1.3,0.9,0.6,0,0,
 0.45,0.8,1.0,1.2,0.85,0.6,0,0,
 0.5,0.8,1.05,1.25,0.9,0.65,0,0,
 0.5,0.8,1.05,1.25,0.9,0.6,0,0,
 0.45,0.7,0.85,0.95,0.8,0.5,0,0,
 0.75];
const hGreen = [
 0.7,0.9,1.0,0.9,0.8,0.5,0,0,
 0.4,0.6,0.75,0.85,0.8,0.5,0,0,
 0.45,0.75,1.0,1.15,0.9,0.6,0,0,
 0.45,0.7,0.85,0.95,0.8,0.5,0,0,
 0.35,0.5,0.6,0.7,0.65,0.45,0,0,
 0.45,0.8,1.1,1.35,0.9,0.5,0,0,
 0.4,0.7,0.85,1.0,0.8,0.5,0,0,
 0.35,0.55,0.7,0.8,0.7,0.45,0,0,
 0.45,0.65,0.8,0.85,0.75,0.5,0,0,
 0.4,0.6,0.75,0.8,0.7,0.5,0,0,
 0.4,0.6,0.75,0.8,0.7,0.5,0,0,
 0.4,0.55,0.7,0.75,0.7,0.45,0,0,
 0.4,0.55,0.7,0.75,0.7,0.45,0,0,
 0.4,0.55,0.65,0.7,0.65,0.4,0,0,
 0.6];
const hOrange = [
 0.7,0.95,1.15,1.0,0.8,0.5,0,0,
 0.4,0.75,1.05,1.2,0.85,0.55,0,0,
 0.45,0.8,1.1,1.2,0.9,0.55,0,0,
 0.4,0.7,0.6];
const hObs = [
 [3.0,[0.6,0.75,0.9,1.05,1.2,1.3,1.4,1.5,1.55]],
 [4.1,[0.55,0.7,0.85,1.0,1.1,1.2,1.3,1.4,1.45]],
 [5.05,[0.55,0.7,0.85,1.0,1.1,1.2,1.3,1.4,1.45,1.45]],
 [6.05,[0.9,1.0,1.1,1.2,1.3,1.4,1.45,1.5,1.55]],
 [7.05,[0.5,0.65,0.8,0.95,1.05,1.15,1.25,1.35]],
 [8.1,[0.6,0.75,0.9,1.05,1.2,1.3,1.4,1.5]],
 [9.05,[0.8,0.95,1.1,1.2,1.3,1.4,1.5,1.6,1.65]],
 [10.05,[0.55,0.65,0.75,0.85,0.95,1.05,1.15,1.2]],
 [11.0,[0.6,0.75,0.9,1.0,1.1,1.2,1.3,1.35,1.4]],
 [12.0,[0.75,0.9,1.05,1.2,1.3,1.4,1.5,1.6,1.65]],
 [13.0,[0.7,0.85,1.0,1.1,1.2,1.3,1.4,1.45]],
 [14.0,[0.6,0.75,0.9,1.05,1.2,1.35,1.5,1.6,1.7,1.8]],
 [14.95,[0.5,0.65,0.8,0.95,1.1,1.25,1.4,1.55,1.7,1.8]],
 [15.95,[0.5,0.65,0.8,0.95,1.1,1.25,1.4,1.55,1.65,1.75]]];

const xTickLabels = [4, 6, 8, 10, 12, 14, 16];

// ---------------------------------------------------------------- layout
const W = 1213, H = 973;
const colX = [[53.3, 605.3], [659.3, 1211.5]];
const rowTop = r => 18 + r * 236.8, rowH = 220.7;
const colors = {orange: "#e07b00", green: "#00e400", blue: "#0000ff", red: "#ff0000"};

const panels = [
  {tag: "(a)", name: "YRB", col: 0, row: 0, dom: [-0.5, 3.2], labels: [0, 0.5, 1, 1.5, 2, 2.5],
   lines: {orange: aOrange, green: aGreen, blue: aBlue, red: aRed}, obs: aObs, obsStep: 0.04},
  {tag: "(b)", name: "YCB", col: 0, row: 1, dom: [-0.5, 2.5], labels: [0, 0.5, 1, 1.5, 2],
   lines: {orange: bOrange, green: bGreen, blue: bBlue, red: bRed}, obs: bObs, obsStep: 0.04},
  {tag: "(c)", name: "YUX", col: 0, row: 2, dom: [-0.5, 2.5], labels: [0, 0.5, 1, 1.5, 2],
   lines: {orange: cOrange, green: cGreen, blue: cBlue, red: cRed}, obs: cObs, obsStep: 0.045},
  {tag: "(d)", name: "YZS", col: 0, row: 3, dom: [-0.5, 2.0], labels: [0, 0.5, 1, 1.5],
   lines: {orange: dOrange, green: dGreen, blue: dBlue, red: dRed}, obs: dObs, obsStep: 0.04},
  {tag: "(e)", name: "LT1", col: 1, row: 0, dom: [0, 7], labels: [1, 2, 3, 4, 5, 6],
   lines: {orange: eOrange, green: eGreen, blue: eBlue, red: eRed}, obs: eObs, obsStep: 0.045},
  {tag: "(f)", name: "YLT", col: 1, row: 1, dom: [0, 7], labels: [1, 2, 3, 4, 5, 6],
   lines: {orange: fOrange, green: fGreen, blue: fBlue, red: fRed}, obs: fObs, obsStep: 0.045},
  {tag: "(g)", name: "WEU", col: 1, row: 2, dom: [0, 6], labels: [1, 2, 3, 4, 5],
   lines: {orange: gOrange, green: gGreen, blue: gBlue, red: gRed}, obs: gObs, obsStep: 0.04},
  {tag: "(h)", name: "YFB", col: 1, row: 3, dom: [-0.5, 2.0], labels: [0, 0.5, 1, 1.5],
   lines: {orange: hOrange, green: hGreen, blue: hBlue, red: hRed}, obs: hObs, obsStep: 0.04}
];

// where the station names sit (offsets inside each panel)
const namePos = {
  YRB: {x: 585, base: "bottom", dy: -4, anchor: "end"},
  YCB: {x: 585, base: "bottom", dy: -4, anchor: "end"},
  YUX: {x: 588, base: "bottom", dy: -4, anchor: "end"},
  YZS: {x: 585, base: "bottom", dy: -5, anchor: "end"},
  LT1: {x: 1202, base: "top", dy: 54, anchor: "end"},
  YLT: {x: 1207, base: "top", dy: 70, anchor: "end"},
  WEU: {x: 1005, base: "top", dy: 48, anchor: "start"},
  YFB: {x: 1205, base: "bottom", dy: -12, anchor: "end"}
};

const svg = d3.select("#chart").append("svg")
  .attr("width", W).attr("height", H);

const fmt1 = d3.format(".1f");
const xTicks = d3.range(3, 17.001, 0.5);

// y scales first so right panels can reuse the left panel tick spacing
panels.forEach(p => {
  p.top = rowTop(p.row);
  p.bottom = p.top + rowH;
  p.x = d3.scaleLinear().domain([3, 17]).range(colX[p.col]);
  p.y = d3.scaleLinear().domain(p.dom).range([p.bottom, p.top]);
});

panels.forEach((p, pi) => {
  const [x0, x1] = colX[p.col];
  const g = svg.append("g");

  g.append("clipPath").attr("id", "clip" + pi)
    .append("rect").attr("x", x0).attr("y", p.top)
    .attr("width", x1 - x0).attr("height", rowH);

  // light vertical grid
  const gridBottom = p.dom[0] < 0 ? p.y(-0.15) : p.bottom;
  g.selectAll("line.grid").data(xTicks.filter(d => d > 3 && d < 17)).enter()
    .append("line").attr("class", "grid")
    .attr("x1", d => p.x(d)).attr("x2", d => p.x(d))
    .attr("y1", p.top).attr("y2", gridBottom)
    .attr("stroke", "#dedede").attr("stroke-width", 1);

  // series
  const plot = g.append("g").attr("clip-path", `url(#clip${pi})`);
  const line = d3.line()
    .defined(v => v != null)
    .x((v, i) => p.x(t0 + i * dt))
    .y(v => p.y(v));
  ["orange", "green", "blue", "red"].forEach(k => {
    plot.append("path")
      .attr("d", line(p.lines[k]))
      .attr("fill", "none")
      .attr("stroke", colors[k])
      .attr("stroke-width", 2)
      .attr("stroke-linejoin", "round");
  });

  // observations
  const pts = [];
  p.obs.forEach(([start, vals]) => vals.forEach((v, k) => pts.push([start + k * p.obsStep, v])));
  plot.selectAll("circle").data(pts).enter().append("circle")
    .attr("cx", d => p.x(d[0])).attr("cy", d => p.y(d[1]))
    .attr("r", 2.3).attr("fill", "#000");

  // frame
  g.append("rect").attr("x", x0).attr("y", p.top)
    .attr("width", x1 - x0).attr("height", rowH)
    .attr("fill", "none").attr("stroke", "#333").attr("stroke-width", 1.3);

  // x ticks top and bottom
  const tk = g.append("g").attr("stroke", "#333").attr("stroke-width", 1.2);
  xTicks.forEach(d => {
    tk.append("line").attr("x1", p.x(d)).attr("x2", p.x(d)).attr("y1", p.top - 5).attr("y2", p.top);
    tk.append("line").attr("x1", p.x(d)).attr("x2", p.x(d)).attr("y1", p.bottom).attr("y2", p.bottom + 5);
  });

  // y ticks: left panels tick every 0.5 on both sides,
  // right panels borrow the left-hand spacing of their row and tick the labels on the right
  const leftP = panels.find(q => q.col === 0 && q.row === p.row);
  const leftVals = d3.range(leftP.dom[0], leftP.dom[1] + 1e-9, 0.5);
  leftVals.forEach(v => {
    const yy = leftP.y(v);
    tk.append("line").attr("x1", x0 - 6).attr("x2", x0).attr("y1", yy).attr("y2", yy);
  });
  const rightVals = p.col === 0 ? leftVals : p.labels;
  rightVals.forEach(v => {
    const yy = p.y(v);
    tk.append("line").attr("x1", x1).attr("x2", x1 + 6).attr("y1", yy).attr("y2", yy);
  });

  // y labels
  g.selectAll("text.ylab").data(p.labels).enter().append("text")
    .attr("class", "ylab")
    .attr("x", x0 - 9).attr("y", d => p.y(d)).attr("dy", "0.36em")
    .attr("text-anchor", "end").style("font-size", "16px")
    .text(d => fmt1(d));

  // x labels on the bottom row
  if (p.row === 3) {
    g.selectAll("text.xlab").data(xTickLabels).enter().append("text")
      .attr("class", "xlab")
      .attr("x", d => p.x(d)).attr("y", p.bottom + 19)
      .attr("text-anchor", "middle").style("font-size", "16px")
      .text(d => d3.format("02d")(d));
  }

  // panel tag and station name
  const tagY = p.col === 0 ? p.bottom - 8 : p.top + 21;
  g.append("text").attr("x", x0 + 13).attr("y", tagY)
    .style("font-size", "19px").text(p.tag);

  const np = namePos[p.name];
  g.append("text")
    .attr("x", np.x).attr("y", (np.base === "top" ? p.top : p.bottom) + np.dy)
    .attr("text-anchor", np.anchor).style("font-size", "28px")
    .text(p.name);
});

</script>
